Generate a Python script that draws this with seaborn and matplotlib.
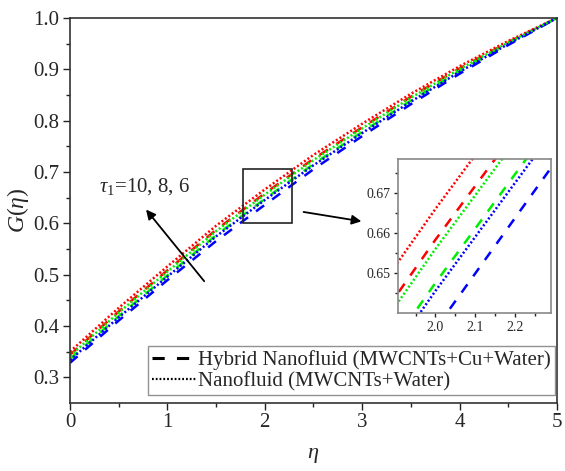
import matplotlib
matplotlib.use("Agg")
import matplotlib.pyplot as plt
import pandas as pd
import seaborn as sns
from matplotlib.lines import Line2D
from matplotlib.patches import Rectangle

# eta grid and G(eta)
eta = [0.0, 0.5, 1.0, 1.5, 2.0, 2.5, 3.0, 3.5, 4.0, 4.5, 5.0]

# hybrid nanofluid (dashed), tau1 = 10, 8, 6
hyb_t10 = [0.3438, 0.4282, 0.5084, 0.5873, 0.6583, 0.7256, 0.7871, 0.8465, 0.9018, 0.9530, 1.0]
hyb_t8 = [0.3356, 0.4190, 0.4984, 0.5769, 0.6475, 0.7155, 0.7781, 0.8389, 0.8964, 0.9501, 1.0]
hyb_t6 = [0.3282, 0.4106, 0.4894, 0.5655, 0.6360, 0.7054, 0.7699, 0.8321, 0.8914, 0.9474, 1.0]

# nanofluid (dotted), tau1 = 10, 8, 6
nf_t10 = [0.3500, 0.4353, 0.5160, 0.5953, 0.6660, 0.7333, 0.7940, 0.8523, 0.9060, 0.9553, 1.0]
nf_t8 = [0.3418, 0.4260, 0.5060, 0.5849, 0.6560, 0.7232, 0.7850, 0.8447, 0.9005, 0.9523, 1.0]
nf_t6 = [0.3336, 0.4168, 0.4961, 0.5745, 0.6455, 0.7131, 0.7759, 0.8371, 0.8951, 0.9494, 1.0]

legend_labels = ["Hybrid Nanofluid (MWCNTs+Cu+Water)", "Nanofluid (MWCNTs+Water)"]
tau_text = r"$\tau_{\mathit{1}}$=10, 8, 6"

sns.set_style("ticks")
plt.rcParams["font.family"] = ["Liberation Serif", "DejaVu Serif"]
plt.rcParams["mathtext.fontset"] = "custom"
plt.rcParams["mathtext.rm"] = "Liberation Serif"
plt.rcParams["mathtext.it"] = "Liberation Serif:italic"

DASH = (0, (4, 4))
DOT = (0, (0.8, 0.9))
LW = 1.8

series = [
    (hyb_t10, "#ff0000", DASH),
    (hyb_t8, "#00ee00", DASH),
    (hyb_t6, "#0000ff", DASH),
    (nf_t10, "#ff0000", DOT),
    (nf_t8, "#00ee00", DOT),
    (nf_t6, "#0000ff", DOT),
]


def draw_lines(ax):
    for vals, col, ls in series:
        df = pd.DataFrame({"eta": eta, "G": vals})
        sns.lineplot(data=df, x="eta", y="G", ax=ax, color=col,
                     linestyle=ls, linewidth=LW, legend=False)


def style_axes(ax, size, major, minor):
    for s in ax.spines.values():
        s.set_color("#333333")
        s.set_linewidth(1.2)
    ax.tick_params(which="both", direction="out", top=False, right=False,
                   labelsize=size, width=1.0, color="#222222", pad=2.5)
    ax.tick_params(which="major", length=major)
    ax.tick_params(which="minor", length=minor)


fig = plt.figure(figsize=(5.65, 4.71), dpi=100)
ax = fig.add_axes([0.1239, 0.1444, 0.8619, 0.8174])
draw_lines(ax)
ax.set_xlim(0, 5)
ax.set_ylim(0.25, 1.0)
ax.set_xticks([0, 1, 2, 3, 4, 5])
ax.set_xticks([0.5, 1.5, 2.5, 3.5, 4.5], minor=True)
ax.set_yticks([0.3, 0.4, 0.5, 0.6, 0.7, 0.8, 0.9, 1.0])
ax.set_yticks([0.35, 0.45, 0.55, 0.65, 0.75, 0.85, 0.95], minor=True)
ax.set_yticklabels(["0.3", "0.4", "0.5", "0.6", "0.7", "0.8", "0.9", "1.0"])
style_axes(ax, 15, 5, 3)
ax.set_xlabel(r"$\eta$", fontsize=16, labelpad=10)
ax.set_ylabel(r"$G(\eta)$", fontsize=17, labelpad=2)

# zoom rectangle and arrows
ax.add_patch(Rectangle((1.78, 0.601), 0.496, 0.105, fill=False,
                       edgecolor="#222222", linewidth=1.2, zorder=5))
ax.annotate("", xy=(3.02, 0.603), xytext=(2.37, 0.623),
            arrowprops=dict(arrowstyle="-|>", color="black", lw=1.3,
                            mutation_scale=14))
ax.annotate("", xy=(0.763, 0.631), xytext=(1.396, 0.483),
            arrowprops=dict(arrowstyle="-|>", color="black", lw=1.3,
                            mutation_scale=14))
ax.text(0.30, 0.672, tau_text, fontsize=15, va="center", ha="left")

handles = [Line2D([], [], color="black", linestyle=(0, (4, 4)), linewidth=2.2),
           Line2D([], [], color="black", linestyle=(0, (0.8, 0.9)), linewidth=1.6)]
leg = ax.legend(handles, legend_labels, loc="lower right",
                bbox_to_anchor=(0.996, 0.02), fontsize=15, frameon=True,
                fancybox=False, handlelength=2.1, handletextpad=0.1,
                labelspacing=0.05, borderpad=0.2, borderaxespad=0.0)
leg.get_frame().set_edgecolor("#777777")
leg.get_frame().set_linewidth(1.0)

# inset
axi = fig.add_axes([0.7044, 0.3348, 0.2708, 0.327])
draw_lines(axi)
axi.set_xlim(1.906, 2.29)
axi.set_ylim(0.6399, 0.6784)
axi.set_xticks([2.0, 2.1, 2.2])
axi.set_xticks([1.95, 2.05, 2.15, 2.25], minor=True)
axi.set_xticklabels(["2.0", "2.1", "2.2"])
axi.set_yticks([0.65, 0.66, 0.67])
axi.set_yticks([0.645, 0.655, 0.665, 0.675], minor=True)
axi.set_yticklabels(["0.65", "0.66", "0.67"])
axi.set_xlabel("")
axi.set_ylabel("")
style_axes(axi, 10, 3, 2)
for s in axi.spines.values():
    s.set_color("#888888")

fig.savefig("out.png", dpi=100)
